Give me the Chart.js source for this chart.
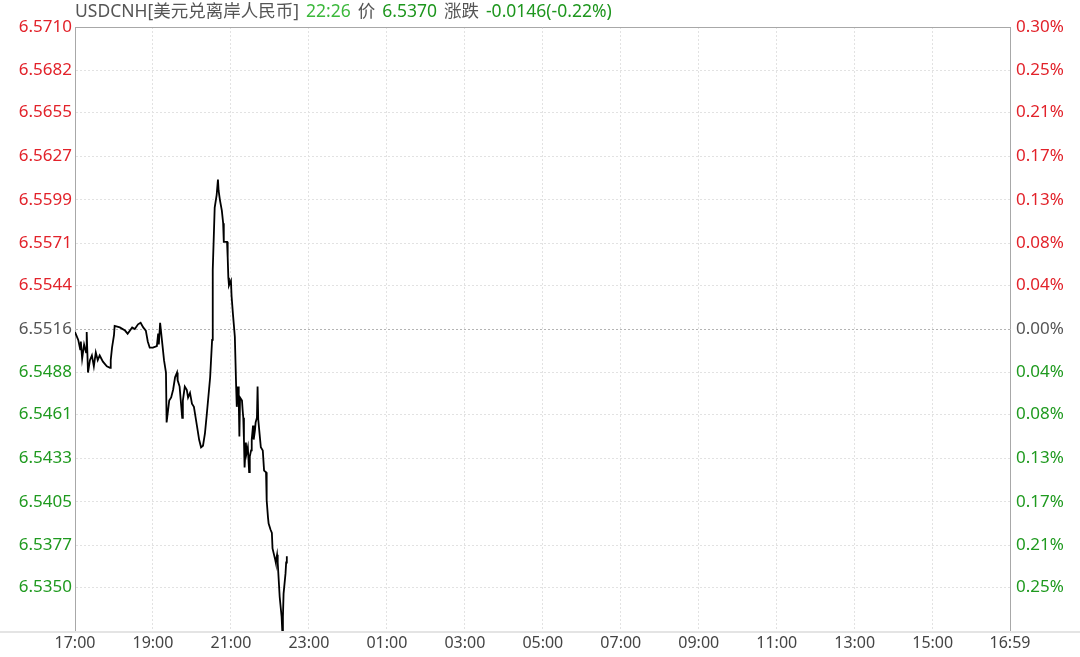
<!DOCTYPE html>
<html lang="zh">
<head>
    <meta charset="UTF-8">
    <title>USDCNH 分时</title>
    <script src="https://cdn.jsdelivr.net/npm/chart.js"></script>
    <style>
        body { margin: 0; background: #fff; }
    </style>
</head>
<body>
    <canvas id="fxChart" width="1080" height="657"></canvas>
    <script>
        // 昨收 / 基准价
        const basePrice = 6.5516;

        const times = [
            '17:00','17:05','17:08','17:09','17:11','17:14','17:17','17:18','17:20','17:23',
            '17:26','17:29','17:32','17:35','17:38','17:43','17:49','17:54','17:55','17:57',
            '18:00','18:01','18:09','18:17','18:21','18:28','18:32','18:37','18:41','18:45',
            '18:49','18:52','18:55','19:00','19:06','19:08','19:09','19:11','19:12','19:15',
            '19:17','19:20','19:21','19:25','19:28','19:31','19:34','19:37','19:38','19:41',
            '19:45','19:46','19:49','19:52','19:54','19:57','20:00','20:03','20:08','20:11',
            '20:14','20:17','20:20','20:23','20:28','20:31','20:32','20:35','20:38','20:40',
            '20:41','20:43','20:46','20:48','20:49','20:54','20:55','20:56','20:57','21:00',
            '21:01','21:03','21:06','21:08','21:09','21:11','21:12','21:13','21:14','21:17',
            '21:18','21:19','21:20','21:21','21:23','21:24','21:26','21:28','21:29','21:31',
            '21:32','21:34','21:35','21:37','21:38','21:40','21:41','21:42','21:44','21:46',
            '21:49','21:51','21:54','21:55','21:57','21:58','22:01','22:03','22:04','22:08',
            '22:09','22:11','22:12','22:15','22:18','22:19','22:20','22:21','22:24','22:25',
            '22:26'
        ];

        const prices = [
            6.5514, 6.5509, 6.5503, 6.5508, 6.5497, 6.5506, 6.5501, 6.5514, 6.5488, 6.5496,
            6.5499, 6.5492, 6.5501, 6.5496, 6.5499, 6.5495, 6.5492, 6.5491, 6.5496, 6.5504,
            6.5512, 6.5518, 6.5517, 6.5515, 6.5513, 6.5517, 6.5516, 6.5519, 6.5520, 6.5517,
            6.5515, 6.5508, 6.5504, 6.5504, 6.5505, 6.5513, 6.5506, 6.5520, 6.5520, 6.5504,
            6.5496, 6.5488, 6.5456, 6.5470, 6.5472, 6.5477, 6.5485, 6.5488, 6.5483, 6.5479,
            6.5459, 6.5470, 6.5479, 6.5477, 6.5472, 6.5475, 6.5468, 6.5466, 6.5453, 6.5445,
            6.5440, 6.5441, 6.5449, 6.5462, 6.5485, 6.5509, 6.5554, 6.5594, 6.5602, 6.5612,
            6.5605, 6.5599, 6.5592, 6.5584, 6.5572, 6.5572, 6.5562, 6.5549, 6.5544, 6.5547,
            6.5537, 6.5526, 6.5511, 6.5479, 6.5466, 6.5479, 6.5470, 6.5447, 6.5472, 6.5470,
            6.5464, 6.5459, 6.5445, 6.5427, 6.5443, 6.5436, 6.5440, 6.5424, 6.5434, 6.5438,
            6.5445, 6.5454, 6.5445, 6.5451, 6.5456, 6.5459, 6.5479, 6.5458, 6.5449, 6.5440,
            6.5438, 6.5425, 6.5424, 6.5406, 6.5395, 6.5391, 6.5387, 6.5385, 6.5375, 6.5368,
            6.5366, 6.5371, 6.5366, 6.5344, 6.5331, 6.5322, 6.5331, 6.5346, 6.5359, 6.5366,
            6.5370
        ];

        const priceTicks = [6.5710, 6.5682, 6.5655, 6.5627, 6.5599, 6.5571, 6.5544, 6.5516,
                            6.5488, 6.5461, 6.5433, 6.5405, 6.5377, 6.5350];
        const pctLabels = ['0.30%', '0.25%', '0.21%', '0.17%', '0.13%', '0.08%', '0.04%', '0.00%',
                           '0.04%', '0.08%', '0.13%', '0.17%', '0.21%', '0.25%'];
        const priceMin = 6.5322;
        const priceMax = 6.5710;

        const timeTickLabels = ['17:00', '19:00', '21:00', '23:00', '01:00', '03:00', '05:00',
                                '07:00', '09:00', '11:00', '13:00', '15:00', '16:59'];

        const titleParts = ['USDCNH[美元兑离岸人民币]', '22:26', '价', '6.5370', '涨跌', '-0.0146(-0.22%)'];
        const titleColors = ['#555555', '#3cb83c', '#555555', '#1e961e', '#555555', '#1e961e'];

        const RED = '#e2222a';
        const GREEN = '#1f9a1f';
        const GRAY = '#555555';

        // 交易日从 17:00 开始, 转换为分钟偏移
        function toMinutes(t) {
            const [h, m] = t.split(':').map(Number);
            return ((h - 17 + 24) % 24) * 60 + m;
        }

        const points = times.map((t, i) => ({ x: toMinutes(t), y: prices[i] }));
        const timeTicks = timeTickLabels.map(toMinutes);

        function priceColor(v) {
            if (Math.abs(v - basePrice) < 1e-6) return GRAY;
            return v > basePrice ? RED : GREEN;
        }

        const framePlugin = {
            id: 'frame',
            afterDraw(chart) {
                const { ctx, chartArea: a, width } = chart;
                ctx.save();
                ctx.strokeStyle = '#a8a8a8';
                ctx.lineWidth = 1;
                ctx.beginPath();
                ctx.moveTo(a.left, a.top + 0.5);
                ctx.lineTo(a.right, a.top + 0.5);
                ctx.stroke();

                ctx.strokeStyle = '#e4e4e4';
                ctx.lineWidth = 2;
                ctx.beginPath();
                ctx.moveTo(0, a.bottom + 1);
                ctx.lineTo(width, a.bottom + 1);
                ctx.stroke();

                ctx.font = '17.5px "Noto Sans", "Noto Sans CJK SC", sans-serif';
                ctx.textBaseline = 'middle';
                let x = a.left;
                titleParts.forEach((s, i) => {
                    ctx.fillStyle = titleColors[i];
                    ctx.fillText(s, x, 12);
                    x += ctx.measureText(s).width + 7;
                });
                ctx.restore();
            }
        };

        const ctx = document.getElementById('fxChart').getContext('2d');
        Chart.defaults.font.family = '"Noto Sans", "Noto Sans CJK SC", sans-serif';
        Chart.defaults.font.size = 16;

        const chart = new Chart(ctx, {
            type: 'line',
            data: {
                datasets: [{
                    data: points,
                    borderColor: '#000',
                    borderWidth: 1.8,
                    pointRadius: 0,
                    tension: 0
                }]
            },
            options: {
                responsive: false,
                animation: false,
                layout: { padding: { top: 27 } },
                plugins: {
                    legend: { display: false },
                    tooltip: { enabled: false }
                },
                scales: {
                    x: {
                        type: 'linear',
                        min: 0,
                        max: 1439,
                        afterBuildTicks: s => { s.ticks = timeTicks.map(v => ({ value: v })); },
                        afterFit: s => { s.height = 26; },
                        ticks: {
                            autoSkip: false,
                            maxRotation: 0,
                            padding: 3,
                            color: '#444',
                            callback: (v) => timeTickLabels[timeTicks.indexOf(v)]
                        },
                        grid: { color: '#e2e2e2', drawTicks: false },
                        border: { display: false, dash: [2, 2] }
                    },
                    y: {
                        position: 'left',
                        min: priceMin,
                        max: priceMax,
                        afterBuildTicks: s => { s.ticks = priceTicks.slice().reverse().map(v => ({ value: v })); },
                        afterFit: s => { s.width = 75; },
                        ticks: {
                            padding: 3,
                            font: { size: 17 },
                            color: c => priceColor(c.tick.value),
                            callback: v => v.toFixed(4)
                        },
                        grid: {
                            drawTicks: false,
                            color: c => (c.tick && Math.abs(c.tick.value - basePrice) < 1e-6) ? '#b4b4b4' : '#e2e2e2'
                        },
                        border: { color: '#a8a8a8', dash: [2, 2] }
                    },
                    y1: {
                        position: 'right',
                        min: priceMin,
                        max: priceMax,
                        afterBuildTicks: s => { s.ticks = priceTicks.slice().reverse().map(v => ({ value: v })); },
                        afterFit: s => { s.width = 70; },
                        ticks: {
                            padding: 6,
                            font: { size: 17 },
                            color: c => priceColor(c.tick.value),
                            callback: v => pctLabels[priceTicks.indexOf(v)]
                        },
                        grid: { drawOnChartArea: false, drawTicks: false },
                        border: { color: '#a8a8a8' }
                    }
                }
            },
            plugins: [framePlugin]
        });
    </script>
</body>
</html>
